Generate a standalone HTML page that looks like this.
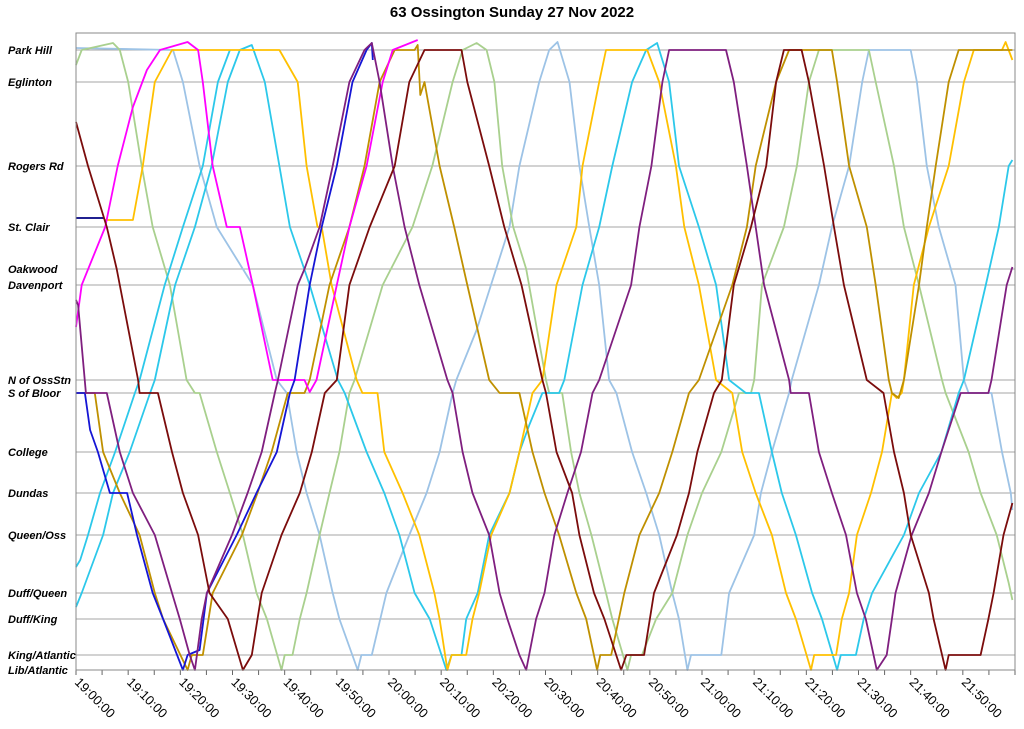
<!DOCTYPE html>
<html><head><meta charset="utf-8"><title>63 Ossington Sunday 27 Nov 2022</title>
<style>
html,body{margin:0;padding:0;background:#fff;}
svg{display:block;font-family:"Liberation Sans",Arial,sans-serif;}
</style></head>
<body>
<svg id="chart" width="1024" height="729" viewBox="0 0 1024 729" xmlns="http://www.w3.org/2000/svg">
<text x="512" y="17" text-anchor="middle" font-size="15" font-weight="bold" fill="#000">63 Ossington Sunday 27 Nov 2022</text>
<g id="grid"></g>
<g id="ylabels"></g>
<g id="xaxis"></g>
<g id="series"></g>
<rect x="76" y="33" width="939" height="637" fill="none" stroke="#888" stroke-width="1"/>
</svg>
<script>
const stopNames = ["Lib/Atlantic","King/Atlantic","Duff/King","Duff/Queen","Queen/Oss","Dundas","College","S of Bloor","N of OssStn","Davenport","Oakwood","St. Clair","Rogers Rd","Eglinton","Park Hill"];
const stopCodes = ["L","K","DK","DQ","Q","D","C","SB","N","DV","O","SC","R","E","P"];
const stopKm = [0,0.15,0.51,0.77,1.35,1.77,2.18,2.77,2.90,3.85,4.01,4.43,5.04,5.88,6.20];
const tickLabels = ["19:00:00","19:10:00","19:20:00","19:30:00","19:40:00","19:50:00","20:00:00","20:10:00","20:20:00","20:30:00","20:40:00","20:50:00","21:00:00","21:10:00","21:20:00","21:30:00","21:40:00","21:50:00"];
const tickMinutes = [0,10,20,30,40,50,60,70,80,90,100,110,120,130,140,150,160,170];

const darkRed = [[0,5.48],[2.3,"R"],[5.9,"SC"],[7.8,"O"],[11.9,"N"],[12.2,"SB"],[15.7,"SB"],[18.4,"C"],[20.5,"D"],[23.4,"Q"],[25.6,"DQ"],[29.1,"DK"],[32.0,"L"],[33.7,"K"],[34.8,"DK"],[35.6,"DQ"],[39.4,"Q"],[42.9,"D"],[45.2,"C"],[47.7,"SB"],[50.0,"N"],[52.4,"DV"],[56.3,"SC"],[61.1,"R"],[63.9,"E"],[66.8,"P"],[73.9,"P"],[75.0,"E"],[79.2,"R"],[82.1,"SC"],[85.4,"DV"],[89.4,"N"],[90.1,"SB"],[92.1,"C"],[95.1,"D"],[96.5,"Q"],[99.3,"DQ"],[101.3,"DK"],[104.5,"L"],[105.5,"K"],[108.9,"K"],[110.8,"DQ"],[115.2,"Q"],[117.5,"D"],[119.1,"C"],[122.3,"SB"],[123.8,"N"],[126.1,"DV"],[129.4,"SC"],[132.3,"R"],[134.2,"E"],[135.7,"P"],[139.1,"P"],[140.5,"E"],[143.4,"R"],[145.3,"SC"],[147.2,"DV"],[151.6,"N"],[154.8,"SB"],[156.8,"C"],[158.7,"D"],[160.0,"Q"],[163.5,"DQ"],[164.4,"DK"],[166.7,"L"],[167.3,"K"],[173.4,"K"],[174.9,"DK"],[175.9,"DQ"],[177.8,"Q"],[179.5,1.67]];
const purple = [[0,3.70],[0.4,3.65],[1.9,"SB"],[5.9,"SB"],[8.4,"C"],[10.9,"D"],[15.1,"Q"],[18.4,"DQ"],[19.9,"DK"],[21.8,"K"],[22.8,"L"],[24.1,"DK"],[25.1,"DQ"],[29.9,"Q"],[32.9,"D"],[35.6,"C"],[38.1,"SB"],[38.7,"N"],[42.5,"DV"],[43.8,"O"],[46.7,"SC"],[49.2,"R"],[52.4,"E"],[55.3,"P"],[56.7,6.27],[58.2,"E"],[60.7,"R"],[63.0,"SC"],[65.8,"DV"],[71.2,"N"],[72.2,"SB"],[74.1,"C"],[76.0,"D"],[79.2,"Q"],[81.2,"DQ"],[82.7,"DK"],[85.0,"K"],[86.3,"L"],[88.2,"DK"],[89.8,"DQ"],[91.7,"Q"],[94.2,"D"],[96.8,"C"],[99.0,"SB"],[100.3,"N"],[106.4,"DV"],[108.0,"SC"],[110.3,"R"],[112.4,"E"],[113.7,"P"],[124.6,"P"],[126.1,"E"],[128.6,"R"],[130.3,"SC"],[131.9,"DV"],[136.7,"N"],[137.0,"SB"],[140.5,"SB"],[142.4,"C"],[144.9,"D"],[147.6,"Q"],[149.7,"DQ"],[151.4,"DK"],[153.5,"L"],[155.4,"K"],[156.4,"DK"],[157.1,"DQ"],[160.2,"Q"],[163.5,"D"],[165.9,"C"],[169.6,"SB"],[174.9,"SB"],[175.5,"N"],[178.4,"DV"],[179.5,4.03]];
const blue = [[0,"SB"],[1.7,"SB"],[2.7,2.40],[4.2,"C"],[6.5,"D"],[9.8,"D"],[11.7,"Q"],[14.7,"DQ"],[16.7,"DK"],[20.5,"L"],[21.4,"K"],[23.7,0.2],[25.1,"DQ"],[30.8,"Q"],[34.6,"D"],[38.5,"C"],[41.0,"SB"],[41.9,"N"],[44.8,"DV"],[47.1,"SC"],[50.0,"R"],[53.0,"E"],[55.7,"P"],[56.7,6.27],[56.9,6.10]];
const navy = [[0,4.52],[5.4,4.52]];
const gold = [[5.6,4.50],[10.9,4.50],[12.8,"R"],[15.1,"E"],[18.4,"P"],[39.0,"P"],[42.5,"E"],[44.2,"R"],[46.3,"SC"],[47.1,"SC"],[49.0,"DV"],[53.8,"N"],[54.9,"SB"],[57.8,"SB"],[59.1,"C"],[62.6,"D"],[65.8,"Q"],[68.7,"DQ"],[69.7,"DK"],[71.2,"L"],[72.0,"K"],[74.8,"K"],[76.0,"DK"],[77.3,"DQ"],[79.6,"Q"],[83.1,"D"],[85.0,"C"],[87.5,"SB"],[89.4,"N"],[92.1,"DV"],[95.9,"SC"],[97.1,"R"],[100.3,"E"],[101.6,"P"],[109.5,"P"],[111.8,"E"],[115.0,"R"],[116.6,"SC"],[119.4,"DV"],[122.7,"N"],[125.8,"SB"],[127.7,"C"],[130.3,"D"],[133.4,"Q"],[136.1,"DQ"],[138.0,"DK"],[140.9,"L"],[141.5,"K"],[145.7,"K"],[146.8,"DK"],[148.2,"DQ"],[149.7,"Q"],[152.4,"D"],[154.5,"C"],[156.4,"SB"],[157.3,2.72],[158.3,"SB"],[158.7,"N"],[160.6,"DV"],[163.5,"SC"],[167.3,"R"],[170.2,"E"],[172.1,"P"],[177.5,"P"],[178.2,6.28],[179.5,6.10]];
const olive = [[0,"SB"],[3.6,"SB"],[5.2,"C"],[8.4,"D"],[12.2,"Q"],[15.1,"DQ"],[16.7,"DK"],[21.4,"L"],[22.2,"K"],[24.3,"K"],[26.2,"DQ"],[31.8,"Q"],[34.8,"D"],[37.5,"C"],[40.6,"SB"],[43.8,"SB"],[44.8,"N"],[48.6,"DV"],[52.4,"SC"],[55.3,"R"],[58.2,"E"],[61.1,"P"],[64.9,"P"],[65.5,6.25],[66.0,5.75],[66.8,"E"],[69.7,"R"],[72.5,"SC"],[75.0,"DV"],[79.2,"N"],[81.2,"SB"],[85.0,"SB"],[87.5,"C"],[89.8,"D"],[92.6,"Q"],[95.9,"DQ"],[97.8,"DK"],[99.9,"L"],[100.5,"K"],[102.6,"K"],[105.1,"DQ"],[108.0,"Q"],[111.8,"D"],[114.3,"C"],[117.5,"SB"],[119.4,"N"],[125.8,"DV"],[128.6,"SC"],[130.3,"R"],[134.2,"E"],[136.7,"P"],[144.9,"P"],[145.9,"E"],[148.2,"R"],[151.6,"SC"],[153.3,"DV"],[155.8,"N"],[156.4,"SB"],[157.7,2.72],[158.7,"N"],[161.6,"DV"],[163.1,"SC"],[164.8,"R"],[167.3,"E"],[169.2,"P"],[179.5,"P"]];
const magenta = [[0,3.43],[1.1,"DV"],[5.6,"SC"],[8.0,"R"],[10.9,5.63],[13.6,6.0],[16.1,"P"],[21.4,6.28],[23.4,"P"],[24.3,"E"],[26.2,"R"],[28.9,"SC"],[31.4,"SC"],[33.9,"DV"],[37.7,"N"],[43.8,"N"],[44.8,2.78],[46.1,"N"],[50.0,"DV"],[52.4,"SC"],[55.7,"R"],[58.8,"E"],[60.7,"P"],[65.5,6.30]];
const lightGreen = [[0,6.05],[1.1,"P"],[7.1,6.27],[8.4,"P"],[10.0,"E"],[12.6,"R"],[14.7,"SC"],[18.0,"DV"],[21.2,"N"],[22.8,"SB"],[23.7,"SB"],[27.0,"C"],[29.5,"D"],[32.0,"Q"],[34.6,"DQ"],[36.6,"DK"],[39.4,"L"],[40.0,"K"],[41.5,"K"],[42.9,"DK"],[44.2,"DQ"],[46.7,"Q"],[48.6,"D"],[50.5,"C"],[52.4,"SB"],[53.4,"N"],[58.8,"DV"],[64.5,"SC"],[68.3,"R"],[72.2,"E"],[74.1,"P"],[76.8,6.27],[78.7,"P"],[80.2,"E"],[81.7,"R"],[83.8,"SC"],[86.3,"O"],[90.1,"N"],[90.7,"SB"],[93.2,"SB"],[94.9,"C"],[96.5,"D"],[98.8,"Q"],[101.6,"DQ"],[102.8,"DK"],[105.7,"L"],[106.4,"K"],[108.5,"K"],[111.2,"DK"],[114.3,"DQ"],[117.2,"Q"],[120.0,"D"],[123.7,"C"],[127.1,"SB"],[129.4,"SB"],[130.0,"N"],[131.5,"DV"],[135.7,"SC"],[138.2,"R"],[140.5,"E"],[142.4,"P"],[152.0,"P"],[153.3,"E"],[156.8,"R"],[158.7,"SC"],[161.6,"DV"],[166.0,"N"],[166.7,"SB"],[171.1,"C"],[173.4,"D"],[176.5,"Q"],[178.8,0.87],[179.5,0.70]];
const lightBlue = [[0,6.22],[18.6,"P"],[20.5,"E"],[23.7,"R"],[27.0,"SC"],[33.9,"DV"],[38.5,"N"],[40.4,"SB"],[42.3,"C"],[44.2,"D"],[46.7,"Q"],[49.2,"DQ"],[50.5,"DK"],[54.0,"L"],[54.7,"K"],[56.7,"K"],[59.5,"DQ"],[63.9,"Q"],[67.2,"D"],[69.7,"C"],[72.2,"SB"],[72.9,"N"],[76.8,3.40],[83.1,"SC"],[85.0,"R"],[88.8,"E"],[90.7,"P"],[92.3,6.28],[94.6,"E"],[96.5,"R"],[98.4,"SC"],[100.3,"DV"],[102.2,"N"],[103.6,"SB"],[106.6,"C"],[109.3,"D"],[111.8,"Q"],[114.3,"DQ"],[115.6,"DK"],[117.2,"L"],[117.9,"K"],[123.7,"K"],[125.2,"DQ"],[130.0,"Q"],[131.3,"D"],[133.4,"C"],[136.7,"SB"],[137.2,"N"],[142.4,"DV"],[144.9,"SC"],[148.2,"R"],[150.7,"E"],[152.0,"P"],[160.0,"P"],[161.2,"E"],[163.1,"R"],[165.4,"SC"],[168.6,"DV"],[170.2,"N"],[171.1,"SB"],[175.5,"SB"],[177.5,"C"],[179.2,"D"],[179.5,1.60]];
const cyanA = [[0,1.03],[0.8,1.10],[2.3,"Q"],[4.6,"D"],[7.5,"C"],[11.3,"SB"],[12.2,"N"],[17.0,"DV"],[20.5,"SC"],[24.3,"R"],[27.2,"E"],[29.5,"P"]];
const cyanB = [[0,0.63],[1.1,"DQ"],[5.2,"Q"],[7.1,"D"],[10.3,"C"],[14.2,"SB"],[15.1,"N"],[19.0,"DV"],[22.8,"SC"],[26.0,"R"],[29.1,"E"],[31.4,"P"],[33.7,6.25],[36.2,"E"],[39.0,"R"],[41.0,"SC"],[44.8,"DV"],[50.2,"N"],[51.5,"SB"],[55.7,"C"],[59.1,"D"],[62.0,"Q"],[64.9,"DQ"],[67.8,"DK"],[71.0,"L"],[72.0,"K"],[73.9,"K"],[74.8,"DK"],[77.0,"DQ"],[79.2,"Q"],[83.1,"D"],[85.0,"C"],[86.9,2.45],[89.4,"SB"],[92.6,"SB"],[93.6,"N"],[97.1,"DV"],[100.3,"SC"],[102.8,"R"],[106.6,"E"],[109.3,"P"],[111.4,6.27],[113.7,"E"],[115.6,"R"],[119.4,"SC"],[122.7,"DV"],[125.2,"N"],[128.4,"SB"],[130.9,"SB"],[133.4,"C"],[135.3,"D"],[138.0,"Q"],[141.1,"DQ"],[143.0,"DK"],[145.9,"L"],[146.6,"K"],[149.5,"K"],[151.0,"DK"],[152.6,"DQ"],[158.7,"Q"],[161.6,"D"],[165.9,"C"],[169.2,"SB"],[170.2,"N"],[174.4,"DV"],[176.9,"SC"],[178.8,"R"],[179.5,5.10]];

const seriesList = [
  {name:"vehicle-light-blue", data:lightBlue, color:"#9dc3e6"},
  {name:"vehicle-light-green", data:lightGreen, color:"#a9d08e"},
  {name:"vehicle-cyan-a", data:cyanA, color:"#2cc8ea"},
  {name:"vehicle-cyan-b", data:cyanB, color:"#2cc8ea"},
  {name:"vehicle-gold", data:gold, color:"#ffc000"},
  {name:"vehicle-olive", data:olive, color:"#bf9000"},
  {name:"vehicle-magenta", data:magenta, color:"#ff00ff"},
  {name:"vehicle-blue", data:blue, color:"#1515d5"},
  {name:"vehicle-navy", data:navy, color:"#000080"},
  {name:"vehicle-purple", data:purple, color:"#7f1f7f"},
  {name:"vehicle-dark-red", data:darkRed, color:"#7b0c0c"}
];

const X0=76, X1=1015, TMAX=180, Y0=670, KMMAX=6.37, YTOP=33;
function xScale(m){return X0 + m*(X1-X0)/TMAX;}
function yScale(km){return Y0 - km*(Y0-YTOP)/KMMAX;}
function posKm(p){return typeof p==="string" ? stopKm[stopCodes.indexOf(p)] : p;}
const NS="http://www.w3.org/2000/svg";
function mk(tag, attrs, parent){const e=document.createElementNS(NS,tag);for(const k in attrs)e.setAttribute(k,attrs[k]);parent.appendChild(e);return e;}

const grid=document.getElementById('grid'), yl=document.getElementById('ylabels');
stopNames.forEach((n,i)=>{
  const y=yScale(stopKm[i]);
  const l=mk('line',{x1:X0,x2:X1,y1:y,y2:y,stroke:'#a6a6a6','stroke-width':1},grid);
  
  
  const t=mk('text',{x:8,y:y+4,'font-size':11,'font-weight':'bold','font-style':'italic',fill:'#000'},yl);
  t.textContent=n;
  
  
});

const xa=document.getElementById('xaxis');
for(let m=0;m<=TMAX;m+=5){
  const x=xScale(m);
  const tk=mk('line',{x1:x,x2:x,y1:Y0,y2:Y0+5,stroke:'#666','stroke-width':1},xa);
  
  
}
tickLabels.forEach((lab,i)=>{
  const x=xScale(tickMinutes[i])-2, y=683;
  const t=mk('text',{x:x,y:y,'font-size':13,fill:'#000',transform:'rotate(45 '+x+' '+y+')'},xa);
  t.textContent=lab;
  
  
});

const sg=document.getElementById('series');
seriesList.forEach(s=>{
  const d=s.data.map((p,i)=>(i?'L':'M')+xScale(p[0]).toFixed(1)+' '+yScale(posKm(p[1])).toFixed(1)).join(' ');
  const path=mk('path',{d:d,fill:'none',stroke:s.color,'stroke-width':1.8,'stroke-linejoin':'round'},sg);
  
  
});
</script>
</body></html>
